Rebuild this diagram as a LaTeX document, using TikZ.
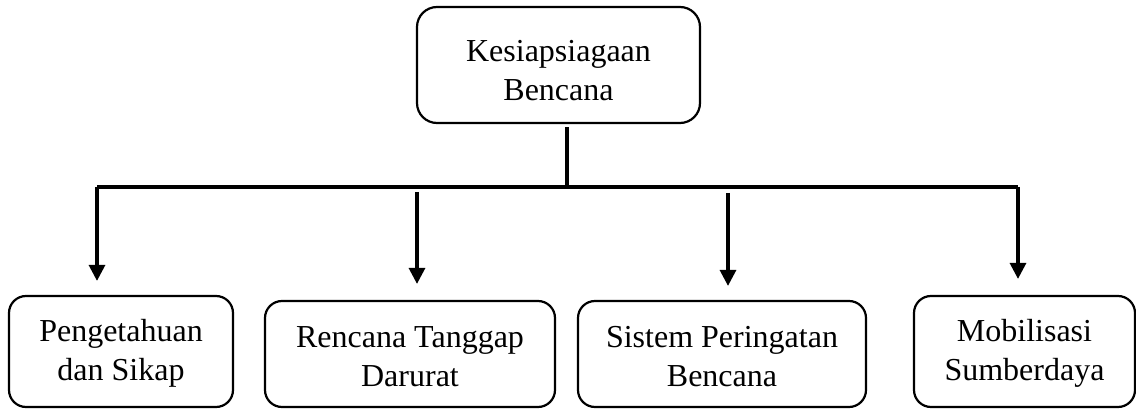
\documentclass[tikz,border=0pt]{standalone}
\usepackage{fontspec}
\setmainfont{Liberation Serif}
\usetikzlibrary{arrows.meta}
\begin{document}
\begin{tikzpicture}[x=1pt,y=-1pt,
  box/.style={draw, line width=2.2pt, rounded corners=17pt, align=center,
    inner sep=0pt, font=\fontsize{32}{39}\selectfont},
  conn/.style={line width=3.2pt},
  arr/.style={conn, -{Triangle[width=16pt,length=16pt]}}]
\useasboundingbox (0,0) rectangle (1136,409);
\node[box, rounded corners=20pt, minimum width=283pt, minimum height=116pt] (top) at (558.5,65) {\rule{0pt}{32pt}Kesiapsiagaan\\Bencana};
\node[box, minimum width=224pt, minimum height=111pt] (b1) at (121,351.5) {\rule{0pt}{26pt}Pengetahuan\\dan Sikap};
\node[box, minimum width=290pt, minimum height=106pt] (b2) at (410,354) {\rule{0pt}{26pt}Rencana Tanggap\\Darurat};
\node[box, minimum width=288pt, minimum height=106pt] (b3) at (722,354) {\rule{0pt}{26pt}Sistem Peringatan\\Bencana};
\node[box, minimum width=221pt, minimum height=111pt] (b4) at (1024.5,351.5) {\rule{0pt}{26pt}Mobilisasi\\Sumberdaya};
\coordinate (hs) at (567,187);
\coordinate (h1) at (97,187);
\coordinate (h2) at (417,192);
\coordinate (h3) at (728,193);
\coordinate (h4) at (1018,187);
\draw[conn, shorten <=3pt] (top.south -| hs) -- (hs);
\draw[conn] (h1) -- (h4);
\draw[arr, shorten >=14pt] (h1) -- (h1 |- b1.north);
\draw[arr, shorten >=16pt] (h2) -- (h2 |- b2.north);
\draw[arr, shorten >=14pt] (h3) -- (h3 |- b3.north);
\draw[arr, shorten >=16pt] (h4) -- (h4 |- b4.north);
\end{tikzpicture}
\end{document}
